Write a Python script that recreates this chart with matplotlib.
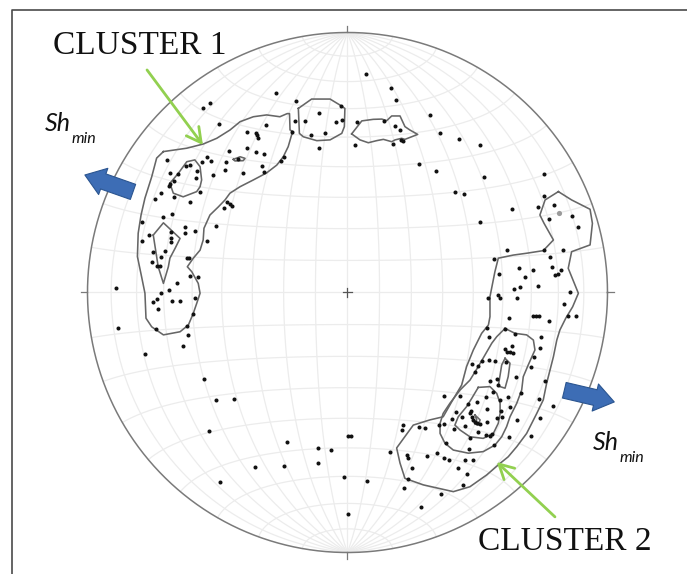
import numpy as np
import matplotlib
matplotlib.use("Agg")
import matplotlib.pyplot as plt
from matplotlib.patches import FancyArrowPatch
from matplotlib.lines import Line2D

# pole positions read off the net, in percent of the primitive radius
# (x to the east, y to the north, centre of the net = 0, 0)
poles_north = [
    (7.2, 84.2), (16.7, 78.7), (18.5, 74.0), (-27.6, 76.6), (-19.7, 73.7),
    (-10.8, 68.9), (-2.5, 71.8), (-20.1, 65.8), (-16.3, 65.8), (-4.3, 65.6),
    (-2.2, 66.3), (-13.9, 60.6), (-8.8, 61.5), (-11.0, 55.7), (-21.3, 61.8),
    (3.5, 65.5), (2.9, 56.6), (14.0, 66.1), (18.2, 63.9), (20.1, 62.4),
    (17.6, 57.2), (20.5, 58.8), (21.5, 58.4), (31.7, 68.3), (35.5, 61.5),
    (42.8, 59.1), (27.5, 49.5), (33.9, 46.7), (51.0, 56.6), (52.6, 44.3),
    (75.6, 45.6),
]

poles_cluster1 = [
    (-31.3, 64.5), (-35.3, 61.5), (-34.8, 60.4), (-34.4, 59.5), (-35.2, 54.2),
    (-32.0, 53.3), (-24.3, 52.2), (-25.4, 50.5), (-32.9, 48.7), (-32.3, 46.5),
    (-55.7, 71.0), (-52.9, 72.9), (-49.4, 64.8), (-38.8, 61.8), (-45.6, 54.5),
    (-38.8, 55.5), (-54.2, 52.2), (-52.6, 50.7), (-46.7, 50.3), (-42.0, 51.3),
    (-47.1, 47.1), (-40.1, 46.1), (-51.8, 45.2), (-56.1, 50.3), (-57.8, 46.8),
    (-60.6, 49.0), (-62.1, 48.7), (-69.5, 51.0), (-68.3, 46.1), (-65.1, 45.5),
    (-66.6, 43.0), (-68.3, 41.7), (-68.8, 41.0), (-58.3, 43.9), (-71.8, 38.2),
    (-73.9, 36.1), (-66.7, 36.8), (-56.7, 38.5), (-60.6, 34.7), (-46.5, 34.9),
    (-45.2, 34.0), (-44.3, 33.3), (-47.4, 32.6), (-70.8, 28.9), (-67.6, 30.2),
    (-78.9, 27.2), (-76.2, 22.1), (-78.9, 19.9), (-67.9, 23.4), (-67.9, 20.8),
    (-68.0, 19.5), (-62.6, 25.3), (-62.6, 22.8), (-58.7, 23.8), (-50.5, 25.7),
    (-54.2, 19.8), (-74.7, 15.7), (-70.2, 16.1), (-71.7, 13.8), (-75.3, 11.8),
    (-73.4, 10.3), (-72.1, 10.3), (-61.6, 13.1), (-60.8, 13.1), (-60.6, 6.3),
    (-57.4, 6.0), (-65.5, 3.5), (-68.8, 1.0), (-71.8, -0.1), (-89.0, 1.6),
    (-73.2, -2.6), (-74.9, -3.8), (-67.6, -3.4), (-64.3, -3.2), (-58.6, -2.0),
    (-72.7, -6.2), (-59.3, -8.4), (-88.1, -13.8), (-73.7, -14.2), (-61.7, -13.0),
    (-61.2, -16.4), (-63.3, -20.7), (-77.7, -23.8),
]

poles_south = [
    (-55.0, -33.2), (-50.7, -41.2), (-43.6, -40.8), (-53.2, -53.2), (-23.2, -57.5),
    (-11.5, -59.9), (-6.3, -60.6), (-11.5, -65.5), (-24.4, -66.7), (-35.7, -67.2),
    (-49.2, -73.0), (-1.3, -71.0), (0.3, -55.3), (1.2, -55.3), (0.3, -85.3),
    (7.6, -72.5),
]

poles_cluster2 = [
    (41.2, 38.5), (44.8, 37.9), (63.3, 32.0), (51.0, 27.1), (75.7, 37.0),
    (79.5, 33.7), (73.4, 32.8), (86.2, 29.6), (77.4, 28.2), (88.5, 25.3),
    (61.2, 16.5), (75.6, 16.2), (82.9, 16.2), (56.2, 13.0), (78.0, 13.6),
    (58.3, 7.2), (65.8, 9.3), (71.2, 8.8), (78.6, 9.7), (82.0, 8.8),
    (79.8, 6.9), (81.1, 7.2), (68.3, 6.0), (66.4, 2.3), (64.2, 1.2),
    (73.2, 2.6), (85.5, 0.2), (54.0, -2.0), (57.8, -1.1), (58.8, -2.0),
    (65.3, -2.2), (83.1, -4.4), (84.8, -9.1), (87.8, -9.2), (71.5, -9.2),
    (72.5, -9.0), (73.5, -9.1), (62.3, -9.9), (77.4, -10.9), (60.6, -13.9),
    (53.7, -13.7), (64.5, -15.8), (54.3, -17.0), (74.4, -17.1), (74.0, -21.5),
    (60.5, -21.8), (61.5, -22.8), (62.5, -22.8), (63.5, -23.2), (63.3, -20.6),
    (61.0, -26.6), (47.9, -27.5), (50.3, -28.3), (49.0, -30.5), (51.8, -26.3),
    (54.3, -26.1), (56.7, -26.3), (71.8, -24.7), (70.7, -28.7), (54.8, -34.0),
    (57.4, -33.4), (57.8, -35.6), (64.9, -32.4), (66.6, -38.5), (76.1, -34.0),
    (73.5, -41.0), (78.9, -43.7), (43.3, -39.7), (37.2, -39.7), (46.5, -43.0),
    (49.7, -42.0), (53.3, -40.1), (55.8, -38.2), (58.7, -41.3), (61.8, -40.1),
    (41.7, -46.1), (47.5, -45.5), (47.1, -46.5), (47.9, -47.8), (48.2, -48.9),
    (49.0, -49.7), (53.5, -44.8), (57.6, -48.2), (59.0, -45.6), (59.4, -47.8),
    (44.0, -48.0), (40.1, -48.8), (49.9, -50.3), (51.0, -50.6), (53.7, -49.8),
    (62.4, -43.9), (65.2, -49.2), (35.1, -51.0), (37.1, -50.7), (41.0, -52.5),
    (45.3, -51.3), (50.1, -53.8), (54.7, -55.1), (55.7, -54.5), (53.3, -54.8),
    (47.2, -56.1), (37.8, -58.0), (56.5, -58.7), (62.1, -55.5), (70.6, -55.2),
    (74.2, -48.3), (21.5, -51.0), (20.8, -52.8), (27.5, -51.6), (29.8, -52.0),
    (46.6, -60.1), (37.0, -63.7), (38.9, -64.5), (22.8, -62.6), (23.3, -63.8),
    (30.6, -62.7), (34.6, -61.9), (45.2, -64.4), (48.4, -64.4), (42.6, -67.4),
    (45.8, -69.7), (24.7, -67.6), (16.5, -61.2), (21.7, -75.3), (36.0, -77.4),
    (44.4, -74.1), (28.3, -82.6), (23.2, -71.6),
]

poles_grey = [(81.3, 30.5)]

# density contours (closed outlines) in the same net units
contour_a = [(-18.9, 70.8), (-13.8, 74.4), (-6.7, 74.4), (-2.9, 72.1), (-1.0, 70.8),
             (-1.2, 63.8), (-2.2, 61.2), (-6.7, 58.7), (-11.8, 58.4), (-17.0, 59.9),
             (-18.5, 61.2)]
contour_b = [(1.6, 61.0), (5.5, 66.0), (9.9, 66.6), (13.2, 66.7), (15.1, 66.1),
             (17.0, 67.9), (20.2, 67.9), (22.1, 63.8), (24.0, 62.5), (27.0, 60.8),
             (22.1, 58.9), (20.8, 59.3), (18.3, 58.7), (17.0, 58.0), (13.8, 58.9),
             (11.2, 58.4), (8.0, 57.6), (4.8, 58.7)]
cluster1_outer = [(-70.8, 54.2), (-61.8, 55.5), (-55.5, 57.1), (-50.3, 59.3), (-45.2, 62.5),
                  (-41.3, 65.7), (-36.2, 67.6), (-31.1, 68.3), (-26.0, 67.6), (-23.2, 68.8),
                  (-22.3, 68.8), (-22.1, 62.5), (-20.8, 61.8), (-21.5, 60.6), (-22.8, 56.1),
                  (-24.7, 52.2), (-27.2, 49.0), (-31.1, 46.0), (-36.2, 43.3), (-41.3, 40.7),
                  (-45.2, 38.2), (-47.1, 35.6), (-49.7, 32.9), (-52.9, 29.8), (-55.2, 24.7),
                  (-55.5, 20.2), (-56.7, 16.3), (-59.3, 13.2), (-61.6, 9.9), (-59.9, 8.0),
                  (-57.4, 3.5), (-56.7, -0.3), (-58.0, -4.2), (-59.3, -8.0), (-61.2, -12.5),
                  (-64.4, -15.1), (-70.8, -16.3), (-75.3, -13.2), (-77.5, -9.9), (-77.9, -0.3),
                  (-79.2, 6.1), (-80.8, 13.8), (-80.5, 22.8), (-79.4, 29.8), (-77.9, 36.3),
                  (-75.3, 44.5), (-73.4, 51.7)]
cluster1_inner = [(-68.3, 42.0), (-65.1, 45.8), (-61.8, 50.3), (-58.7, 51.0), (-56.7, 48.4),
                  (-56.1, 43.3), (-56.7, 40.7), (-58.0, 38.8), (-63.2, 36.8), (-67.0, 38.2)]
cluster1_small = [(-43.9, 51.2), (-41.3, 52.2), (-39.4, 51.6), (-40.1, 50.7), (-43.3, 50.6)]
cluster1_lower = [(-74.7, 22.1), (-70.8, 26.8), (-64.4, 20.8), (-66.3, 17.0), (-68.3, 13.2),
                  (-68.9, 9.9), (-70.8, 3.5), (-72.8, 9.9)]
cluster2_outer = [(81.1, 38.8), (86.2, 35.6), (93.3, 32.0), (94.2, 26.6), (93.3, 18.3),
                  (86.2, 15.7), (84.9, 9.3), (88.8, -0.3), (86.6, -5.5), (84.0, -9.8),
                  (81.7, -14.4), (80.5, -18.3), (79.2, -24.7), (76.6, -34.9), (75.3, -41.3),
                  (72.8, -46.5), (68.9, -54.2), (65.1, -59.3), (61.8, -63.2), (58.7, -65.7),
                  (53.5, -70.2), (47.1, -74.7), (40.7, -76.6), (29.2, -74.0), (22.1, -71.5),
                  (20.2, -65.6), (18.9, -59.8), (25.3, -51.0), (31.7, -49.0), (36.8, -47.8),
                  (40.1, -42.0), (43.9, -35.6), (45.8, -28.5), (48.4, -22.1), (51.6, -15.7),
                  (54.2, -12.5), (54.8, -9.3), (54.8, -1.6), (56.7, 8.0), (58.0, 13.2),
                  (63.8, 14.4), (68.9, 15.1), (75.3, 16.1), (79.2, 20.2), (75.6, 26.6),
                  (74.0, 29.8), (76.0, 35.6)]
cluster2_mid = [(60.6, -13.8), (64.4, -15.7), (68.9, -16.3), (71.5, -18.3), (72.1, -22.1),
                (69.5, -27.9), (67.6, -32.4), (67.0, -37.5), (65.1, -42.6), (62.5, -47.8),
                (61.2, -51.6), (59.3, -55.5), (56.7, -58.7), (52.2, -61.2), (46.5, -61.8),
                (40.7, -60.6), (37.5, -58.0), (35.6, -54.2), (35.6, -50.3), (36.8, -46.5),
                (39.4, -42.6), (43.3, -37.5), (47.1, -33.7), (50.3, -28.5), (52.9, -24.0),
                (55.5, -19.5), (57.4, -17.0)]
cluster2_core = [(50.3, -36.5), (54.8, -36.2), (57.4, -38.8), (58.7, -42.6), (58.7, -46.5),
                 (58.0, -50.3), (56.1, -54.2), (52.2, -56.1), (47.1, -55.5), (43.3, -52.9),
                 (41.3, -51.0), (42.6, -47.8), (45.8, -43.9), (47.8, -40.7)]
cluster2_upper = [(60.6, -25.3), (62.5, -27.2), (61.8, -32.4), (60.6, -36.8), (58.0, -36.0),
                  (58.7, -31.7), (59.3, -27.9)]
cluster2_peak = [(49.0, -47.1), (51.0, -49.0), (50.3, -51.0), (49.0, -50.6), (49.7, -49.0)]

contours = [contour_a, contour_b, cluster1_outer, cluster1_inner, cluster1_small,
            cluster1_lower, cluster2_outer, cluster2_mid, cluster2_core,
            cluster2_upper, cluster2_peak]

cluster_labels = ["CLUSTER 1", "CLUSTER 2"]
stress_label = ("Sh", "min")

R = 100.0  # primitive circle radius in net units


def schmidt(lon, lat):
    # equatorial equal-area (Schmidt) net, poles of the graticule at N and S
    lon = np.radians(lon)
    lat = np.radians(lat)
    k = np.sqrt(2.0 / (1.0 + np.cos(lat) * np.cos(lon)))
    return R * k * np.cos(lat) * np.sin(lon) / np.sqrt(2), R * k * np.sin(lat) / np.sqrt(2)


fig = plt.figure(figsize=(6.87, 5.74), dpi=100)
ax = fig.add_axes([0, 0, 1, 1])
ax.set_xlim(-133.65, 130.58)
ax.set_ylim(-108.27, 112.5)
ax.axis("off")

# graticule, every 10 degrees (very faint in the original)
grid_col = "#ececec"
lat_line = np.linspace(-90, 90, 361)
for lon in range(-80, 90, 10):
    gx, gy = schmidt(np.full_like(lat_line, lon), lat_line)
    ax.plot(gx, gy, color=grid_col, lw=0.9, zorder=1)
lon_line = np.linspace(-90, 90, 361)
for lat in range(-80, 90, 10):
    gx, gy = schmidt(lon_line, np.full_like(lon_line, lat))
    ax.plot(gx, gy, color=grid_col, lw=0.9, zorder=1)

# primitive circle, cardinal ticks and centre cross
t = np.linspace(0, 2 * np.pi, 400)
ax.plot(R * np.cos(t), R * np.sin(t), color="#7a7a7a", lw=1.1, zorder=2)
for ang in (0, 90, 180, 270):
    c, s = np.cos(np.radians(ang)), np.sin(np.radians(ang))
    ax.plot([R * c, 1.025 * R * c], [R * s, 1.025 * R * s], color="#7a7a7a", lw=0.9, zorder=2)
ax.plot([-1.8, 1.8], [0, 0], color="#555555", lw=0.9, zorder=3)
ax.plot([0, 0], [-1.8, 1.8], color="#555555", lw=0.9, zorder=3)

# contours
for poly in contours:
    px, py = zip(*(poly + poly[:1]))
    ax.plot(px, py, color="#666666", lw=1.15, zorder=3)

# poles
for group in (poles_north, poles_cluster1, poles_south, poles_cluster2):
    px, py = zip(*group)
    ax.scatter(px, py, s=8.5, color="#111111", linewidths=0, zorder=4)
gx, gy = zip(*poles_grey)
ax.scatter(gx, gy, s=14, color="#9a9a9a", linewidths=0, zorder=4)

# cluster labels and pointers
ax.text(-113.3, 91.9, cluster_labels[0], family="Liberation Serif", fontsize=24,
        ha="left", va="baseline", color="#111111", zorder=5)
ax.text(50.3, -99.2, cluster_labels[1], family="Liberation Serif", fontsize=24,
        ha="left", va="baseline", color="#111111", zorder=5)
green = "#92d050"
for tail, tip in (((-77.1, 85.6), (-55.6, 56.7)), ((79.8, -86.3), (57.4, -65.2))):
    ax.add_patch(FancyArrowPatch(tail, tip, arrowstyle="->,head_length=0.65,head_width=0.35",
                                 mutation_scale=16, color=green, lw=2.0,
                                 shrinkA=0, shrinkB=0, zorder=5))

# Sh_min arrows
blue = "#3d6db5"
for tail, tip in (((-82.5, 38.7), (-101.0, 45.2)), ((83.4, -37.6), (102.6, -42.1))):
    ax.add_patch(FancyArrowPatch(tail, tip,
                                 arrowstyle="simple,head_length=14,head_width=20,tail_width=11.5",
                                 mutation_scale=1, fc=blue, ec="#2b5590", lw=0.8,
                                 shrinkA=0, shrinkB=0, zorder=5))

for x0, y0 in ((-116.3, 62.1), (94.4, -60.6)):
    sh = ax.text(x0, y0, stress_label[0], family="Lato", style="italic", fontsize=18,
                 ha="left", va="baseline", color="#111111", zorder=5)
    ax.annotate(stress_label[1], xy=(1, 0), xycoords=sh, xytext=(0.5, -6),
                textcoords="offset points", family="Lato", style="italic",
                fontsize=11.5, ha="left", va="baseline", color="#111111", zorder=5)

# frame of the original figure (left and top edges)
fig.add_artist(Line2D([0.0175, 0.0175, 1.0], [0.0, 0.9826, 0.9826],
                      transform=fig.transFigure, color="#4a4a4a", lw=1.2))

fig.savefig("out.png", dpi=100)
